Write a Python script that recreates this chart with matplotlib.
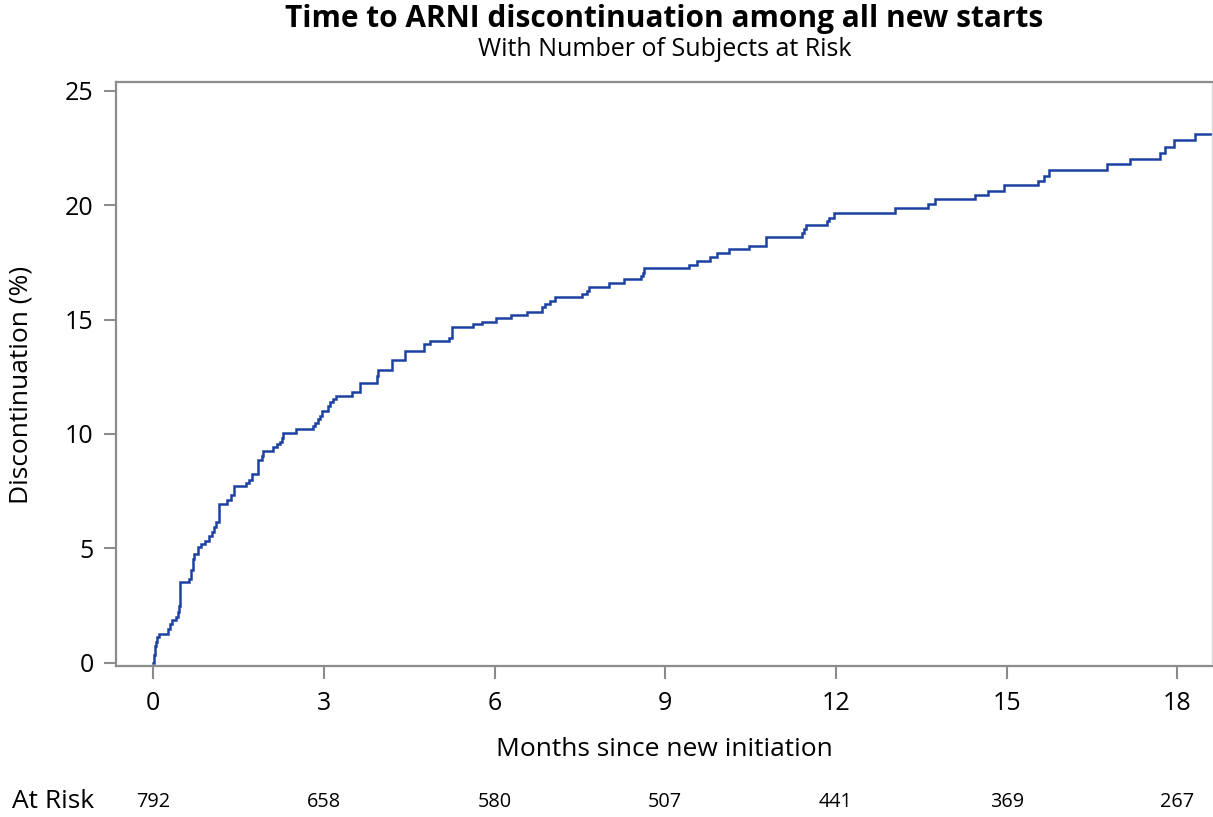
import matplotlib
matplotlib.use("Agg")
import matplotlib.pyplot as plt
import matplotlib.transforms as mtransforms

# ---- data ----
times = [0, 0.01, 0.03, 0.05, 0.07, 0.10, 0.26, 0.29, 0.32, 0.40, 0.43, 0.46, 0.47,
         0.63, 0.66, 0.69, 0.72, 0.79, 0.84, 0.91, 0.98, 1.03, 1.07, 1.11, 1.15,
         1.29, 1.36, 1.41, 1.63, 1.68, 1.73, 1.84, 1.91, 1.93, 2.11, 2.18, 2.23,
         2.26, 2.28, 2.51, 2.80, 2.84, 2.89, 2.93, 2.97, 3.07, 3.11, 3.15, 3.21,
         3.49, 3.63, 3.93, 3.95, 4.19, 4.42, 4.75, 4.86, 5.20, 5.25, 5.62, 5.78,
         6.02, 6.28, 6.57, 6.83, 6.88, 6.98, 7.06, 7.53, 7.62, 7.66, 8.01, 8.27,
         8.57, 8.60, 8.63, 9.42, 9.55, 9.78, 9.90, 10.12, 10.47, 10.77, 11.41,
         11.44, 11.47, 11.85, 11.88, 11.97, 13.03, 13.62, 13.74, 14.44, 14.67,
         14.95, 15.55, 15.65, 15.75, 16.77, 17.16, 17.69, 17.78, 17.94, 18.31, 18.70]
discontinuation = [0, 0.34, 0.73, 0.92, 1.11, 1.24, 1.47, 1.68, 1.87, 2.01, 2.23, 2.50, 3.53,
                   3.65, 4.05, 4.52, 4.75, 5.07, 5.20, 5.30, 5.54, 5.73, 5.95, 6.17, 6.94,
                   7.11, 7.33, 7.73, 7.84, 7.99, 8.24, 8.86, 9.04, 9.27, 9.42, 9.55, 9.66,
                   9.81, 10.06, 10.20, 10.34, 10.50, 10.67, 10.80, 11.02, 11.22, 11.41, 11.53, 11.67,
                   11.85, 12.24, 12.54, 12.80, 13.24, 13.64, 13.94, 14.07, 14.18, 14.67, 14.80, 14.91,
                   15.06, 15.20, 15.35, 15.54, 15.68, 15.83, 15.98, 16.12, 16.27, 16.44, 16.62, 16.76,
                   16.91, 17.05, 17.25, 17.39, 17.58, 17.73, 17.93, 18.09, 18.23, 18.60, 18.78,
                   18.95, 19.13, 19.31, 19.46, 19.65, 19.87, 20.06, 20.26, 20.45, 20.64,
                   20.87, 21.08, 21.29, 21.54, 21.79, 22.02, 22.27, 22.54, 22.84, 23.12, 23.12]

risk_months = [0, 3, 6, 9, 12, 15, 18]
at_risk = [792, 658, 580, 507, 441, 369, 267]
y_ticks = [0, 5, 10, 15, 20, 25]

title = "Time to ARNI discontinuation among all new starts"
subtitle = "With Number of Subjects at Risk"
xlabel = "Months since new initiation"
ylabel = "Discontinuation (%)"

# ---- figure ----
plt.rcParams['font.family'] = ['Open Sans', 'DejaVu Sans']
W, H = 1213, 817
fig = plt.figure(figsize=(W / 100, H / 100), dpi=100)
ax = fig.add_axes([116 / W, 1 - 666 / H, (1212 - 116) / W, (666 - 82) / H])

line_color = '#1C41A3'
ax.step(times, discontinuation, where='post', color=line_color, lw=1.8,
        solid_joinstyle='miter')

ax.set_xlim(-0.656, 18.61)
ax.set_ylim(-0.144, 25.39)
ax.set_xticks(risk_months)
ax.set_yticks(y_ticks)

axis_gray = '#8C8C8C'
for side in ['left', 'bottom', 'top']:
    ax.spines[side].set_color(axis_gray)
    ax.spines[side].set_linewidth(1.6)
ax.spines['right'].set_color('#D9D9D9')
ax.spines['right'].set_linewidth(1.0)
ax.tick_params(axis='both', direction='out', length=9, width=1.5, color=axis_gray,
               labelsize=18, labelcolor='black')
ax.tick_params(axis='x', pad=9)
ax.tick_params(axis='y', pad=7)

# axis labels
ax.set_xlabel(xlabel, fontsize=19)
ax.set_ylabel(ylabel, fontsize=19)
ax.xaxis.label.set_va('center')
ax.yaxis.label.set_va('center')
ax.xaxis.set_label_coords(664.5 / W, 1 - 750 / H, transform=fig.transFigure)
ax.yaxis.set_label_coords(21 / W, 1 - 385 / H, transform=fig.transFigure)

fig.text(664.5 / W, 1 - 19 / H, title, ha='center', va='center', fontsize=21.5,
         fontweight='bold')
fig.text(664.5 / W, 1 - 50 / H, subtitle, ha='center', va='center', fontsize=18)

# At-risk row
trans = mtransforms.blended_transform_factory(ax.transData, fig.transFigure)
row_y = 1 - 802 / H
fig.text(12 / W, row_y, "At Risk", ha='left', va='center', fontsize=19)
for m, n in zip(risk_months, at_risk):
    ax.text(m, row_y, str(n), transform=trans, ha='center', va='center',
            fontsize=14.3, clip_on=False)

fig.savefig("out.png", dpi=100)
